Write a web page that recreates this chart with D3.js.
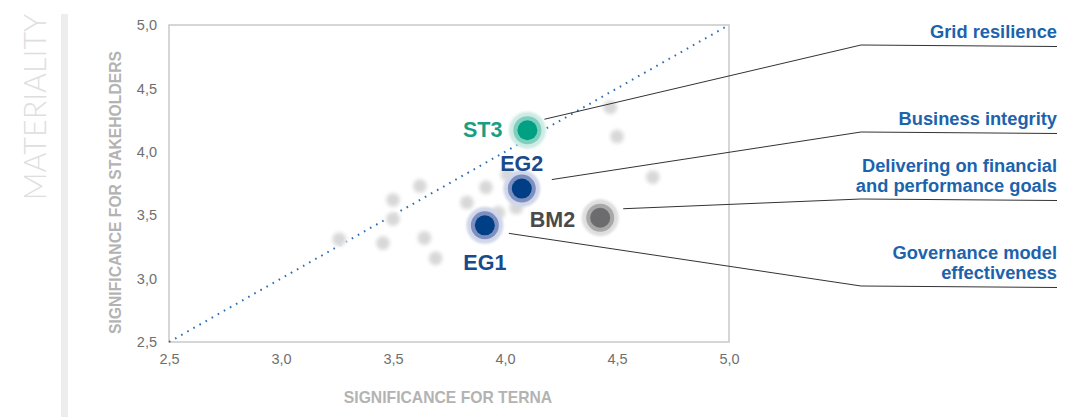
<!DOCTYPE html>
<html>
<head>
<meta charset="utf-8">
<script src="https://cdn.jsdelivr.net/npm/d3@7"></script>
<style>
  body { margin: 0; background: #fff; }
  svg { display: block; font-family: "Liberation Sans", Arial, sans-serif; }
</style>
</head>
<body>
<div class="chart"></div>
<script>
'use strict';

// background topics (grey dots)
const otherX = [3.26, 3.455, 3.50, 3.50, 3.62, 3.64, 3.69, 3.83, 3.915, 3.97, 4.01, 4.05, 4.47, 4.50, 4.66];
const otherY = [3.31, 3.28, 3.62, 3.47, 3.73, 3.32, 3.16, 3.60, 3.72, 3.52, 3.82, 3.56, 4.35, 4.12, 3.80];

// highlighted topics
const keyCodes = ['ST3', 'EG2', 'BM2', 'EG1'];
const keyX = [4.10, 4.075, 4.425, 3.91];
const keyY = [4.17, 3.71, 3.48, 3.42];
const keyTitles = [
    ['Grid resilience'],
    ['Business integrity'],
    ['Delivering on financial', 'and performance goals'],
    ['Governance model', 'effectiveness']
];

const ticks = [2.5, 3.0, 3.5, 4.0, 4.5, 5.0];

const W = 1065, H = 417;
const plot = {left: 169, right: 729, top: 25, bottom: 342};

const palette = {
    ST3: {core: '#00a183', ring: '#80cfbe', halo: '#cdebe4', text: '#1a9e83'},
    EG2: {core: '#003e86', ring: '#7d8fbf', halo: '#d0d7ea', text: '#184a8c'},
    EG1: {core: '#003e86', ring: '#7d8fbf', halo: '#d0d7ea', text: '#184a8c'},
    BM2: {core: '#6c6c6e', ring: '#a8a8a8', halo: '#dedede', text: '#4a4a4a'}
};

// label placement relative to the dot (anchor, dx, dy)
const codeLabel = {
    ST3: ['end', -25, 7],
    EG2: ['middle', 0, -18],
    BM2: ['end', -25, 9],
    EG1: ['middle', 0, 45]
};
// leader line: start offset from dot, elbow y
const leader = {
    ST3: [17, -11, 45],
    EG2: [30, -9, 132],
    BM2: [23, -9, 199],
    EG1: [24, 8, 286]
};

const x = d3.scaleLinear().domain([2.5, 5]).range([plot.left, plot.right]);
const y = d3.scaleLinear().domain([2.5, 5]).range([plot.bottom, plot.top]);

const svg = d3.select('.chart').append('svg')
    .attr('width', W)
    .attr('height', H);

const defs = svg.append('defs');
defs.append('filter').attr('id', 'soft')
    .attr('x', '-50%').attr('y', '-50%').attr('width', '200%').attr('height', '200%')
    .append('feGaussianBlur').attr('stdDeviation', 1.6);
defs.append('filter').attr('id', 'softer')
    .attr('x', '-50%').attr('y', '-50%').attr('width', '200%').attr('height', '200%')
    .append('feGaussianBlur').attr('stdDeviation', 0.9);

// side band + title
svg.append('rect')
    .attr('x', 61).attr('y', 14).attr('width', 7).attr('height', H - 14)
    .attr('fill', '#ededed');

svg.append('text')
    .attr('transform', 'translate(46,107) rotate(-90)')
    .attr('text-anchor', 'middle')
    .attr('font-family', 'Lato, "Open Sans", sans-serif')
    .attr('font-weight', 300)
    .attr('font-size', 30.5)
    .attr('fill', '#dedede')
    .text('MATERIALITY');

// frame
svg.append('rect')
    .attr('x', plot.left).attr('y', plot.top)
    .attr('width', plot.right - plot.left).attr('height', plot.bottom - plot.top)
    .attr('fill', 'none')
    .attr('stroke', '#c9c9c9')
    .attr('stroke-width', 1.5);

// axes (labels only)
const fmt = d => d3.format('.1f')(d).replace('.', ',');
const xAxis = svg.append('g')
    .attr('transform', `translate(0,${plot.bottom + 6})`)
    .call(d3.axisBottom(x).tickValues(ticks).tickSize(0).tickPadding(6).tickFormat(fmt));
const yAxis = svg.append('g')
    .attr('transform', `translate(${plot.left - 10},0)`)
    .call(d3.axisLeft(y).tickValues(ticks).tickSize(0).tickPadding(2).tickFormat(fmt));
[xAxis, yAxis].forEach(a => {
    a.select('.domain').remove();
    a.selectAll('text')
        .attr('font-family', '"Liberation Sans", Arial, sans-serif')
        .attr('font-size', 14.5)
        .attr('fill', '#6f6f6f');
});

svg.append('text')
    .attr('x', (plot.left + plot.right) / 2 - 1)
    .attr('y', 403)
    .attr('text-anchor', 'middle')
    .attr('font-weight', 'bold')
    .attr('font-size', 15.7)
    .attr('fill', '#b3b3b3')
    .text('SIGNIFICANCE FOR TERNA');

svg.append('text')
    .attr('transform', `translate(121,${(plot.top + plot.bottom) / 2 + 9}) rotate(-90)`)
    .attr('text-anchor', 'middle')
    .attr('font-weight', 'bold')
    .attr('font-size', 15.7)
    .attr('fill', '#b3b3b3')
    .text('SIGNIFICANCE FOR STAKEHOLDERS');

// diagonal
svg.append('line')
    .attr('x1', x(2.5)).attr('y1', y(2.5))
    .attr('x2', x(5)).attr('y2', y(5))
    .attr('stroke', '#2c6db6')
    .attr('stroke-width', 2)
    .attr('stroke-dasharray', '1.6,5.4');

// grey dots
const others = otherX.map((v, i) => ({x: v, y: otherY[i]}));
const og = svg.append('g').attr('filter', 'url(#soft)');
og.selectAll('.halo').data(others).enter().append('circle')
    .attr('cx', d => x(d.x)).attr('cy', d => y(d.y))
    .attr('r', 8).attr('fill', '#ececec');
og.selectAll('.dot').data(others).enter().append('circle')
    .attr('cx', d => x(d.x)).attr('cy', d => y(d.y))
    .attr('r', 5.5).attr('fill', '#d8d8d8');

// key topics
const keys = keyCodes.map((c, i) => ({code: c, x: keyX[i], y: keyY[i], title: keyTitles[i]}));

// leader lines
const lg = svg.append('g');
keys.forEach(d => {
    const [dx, dy, ey] = leader[d.code];
    const sx = x(d.x) + dx, sy = y(d.y) + dy;
    lg.append('polyline')
        .attr('points', `${sx},${sy} 861,${ey} 1057,${ey + 1.5}`)
        .attr('fill', 'none')
        .attr('stroke', '#333')
        .attr('stroke-width', 1);
    const lines = d.title;
    lines.forEach((t, j) => {
        lg.append('text')
            .attr('x', 1057)
            .attr('y', ey - 7 - (lines.length - 1 - j) * 20.5)
            .attr('text-anchor', 'end')
            .attr('font-weight', 'bold')
            .attr('font-size', 18.3)
            .attr('fill', '#1c63ad')
            .text(t);
    });
});

const kg = svg.append('g').selectAll('g').data(keys).enter().append('g')
    .attr('transform', d => `translate(${x(d.x)},${y(d.y)})`);
kg.append('circle').attr('r', 18.5).attr('fill', d => palette[d.code].halo).attr('filter', 'url(#softer)');
kg.append('circle').attr('r', 14).attr('fill', d => palette[d.code].ring);
kg.append('circle').attr('r', 10).attr('fill', d => palette[d.code].core);
kg.append('text')
    .attr('text-anchor', d => codeLabel[d.code][0])
    .attr('x', d => codeLabel[d.code][1])
    .attr('y', d => codeLabel[d.code][2])
    .attr('font-weight', 'bold')
    .attr('font-size', 21.5)
    .attr('fill', d => palette[d.code].text)
    .text(d => d.code);
</script>
</body>
</html>
